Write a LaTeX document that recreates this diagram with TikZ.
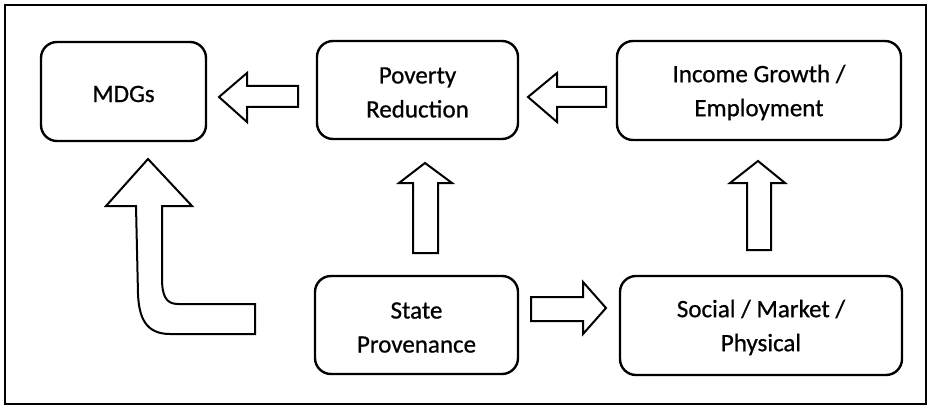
\documentclass[tikz,border=0pt]{standalone}
\usepackage{fontspec}
\setmainfont{Carlito}[FakeBold=0.7]
\begin{document}
\begin{tikzpicture}[x=1pt,y=-1pt,
  boxnode/.style={draw, line width=2.4pt, rounded corners=16pt, inner sep=0pt},
  boxtext/.style={align=center, inner sep=0pt, font=\fontsize{25}{34}\selectfont},
  blockarrow/.style={draw, line width=2pt, line join=miter, fill=white}]
\useasboundingbox (0,0) rectangle (933,406);
\draw[line width=2.6pt] (5,5) rectangle (926,404);
\node[boxnode, minimum width=165pt, minimum height=99pt] (mdg) at (123.5,91.5) {};
\node[boxnode, minimum width=201pt, minimum height=98pt] (pov) at (417.5,90) {};
\node[boxnode, minimum width=284pt, minimum height=99pt] (inc) at (759,90.5) {};
\node[boxnode, minimum width=203pt, minimum height=98pt] (sta) at (416.5,325) {};
\node[boxnode, minimum width=282pt, minimum height=99pt] (soc) at (761,325.5) {};
\node[boxtext] (mdgt) at ([yshift=-2.5pt]mdg.center) {MDGs};
\node[boxtext] (povt) at ([yshift=-2.5pt]pov.center) {Poverty\\Reduction};
\node[boxtext] (inct) at ([yshift=-2pt]inc.center) {Income Growth /\\Employment};
\node[boxtext] (stat) at ([yshift=-2.5pt]sta.center) {State\\Provenance};
\node[boxtext] (soct) at ([yshift=-2pt]soc.center) {Social / Market /\\Physical};
% Poverty -> MDGs
\draw[blockarrow] (219,97) -- (247,73) -- (247,86) -- (298,86) -- (298,107) -- (247,107) -- (247,122) -- cycle;
% Income -> Poverty
\draw[blockarrow] (528,97) -- (557,73) -- (557,87) -- (606,87) -- (606,107) -- (557,107) -- (557,122) -- cycle;
% State -> Poverty
\draw[blockarrow] (425,163) -- (452,183) -- (438,183) -- (438,253) -- (413,253) -- (413,183) -- (399,183) -- cycle;
% Social -> Income
\draw[blockarrow] (758,161) -- (785,183) -- (771,183) -- (771,250) -- (747,250) -- (747,183) -- (730,183) -- cycle;
% State -> Social
\draw[blockarrow] (531,297) -- (583,297) -- (583,282) -- (606,308) -- (583,334) -- (583,321) -- (531,321) -- cycle;
% bent arrow -> MDGs
\draw[blockarrow] (148,159) -- (192,206) -- (162,206) -- (162,278)
  .. controls (162,296) and (166,304) .. (178,304) -- (255,304) -- (255,334) -- (170,334)
  .. controls (146,334) and (139,318) .. (138,294) -- (136,206) -- (106,206) -- cycle;
\end{tikzpicture}
\end{document}
